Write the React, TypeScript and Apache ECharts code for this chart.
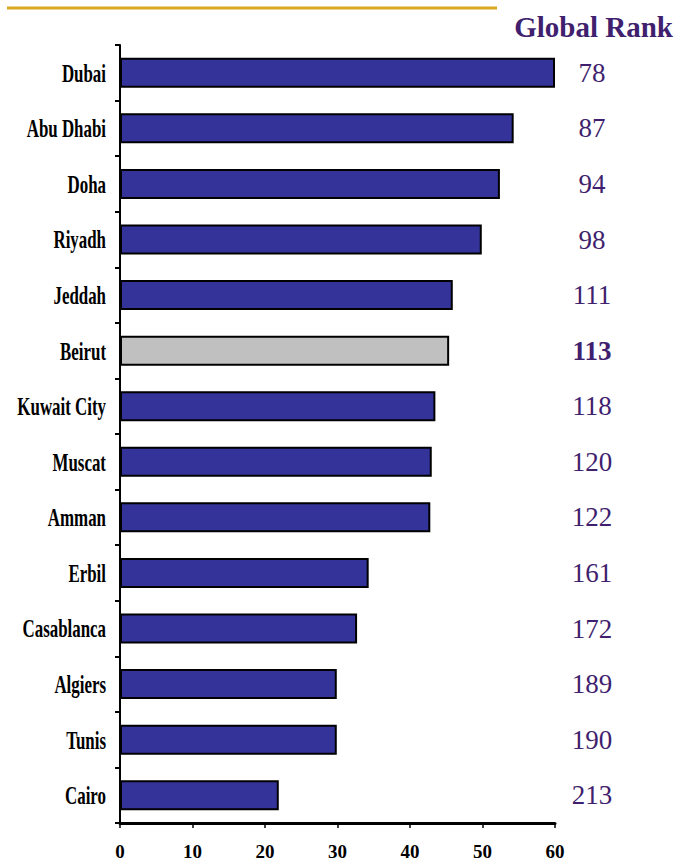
import React, { useEffect, useRef } from "react";
import * as echarts from "echarts";

const categories = [
  "Dubai",
  "Abu Dhabi",
  "Doha",
  "Riyadh",
  "Jeddah",
  "Beirut",
  "Kuwait City",
  "Muscat",
  "Amman",
  "Erbil",
  "Casablanca",
  "Algiers",
  "Tunis",
  "Cairo",
];
const scores = [60.0, 54.3, 52.4, 49.9, 45.9, 45.4, 43.5, 43.0, 42.8, 34.3, 32.7, 29.9, 29.9, 21.9];
const ranks = ["78", "87", "94", "98", "111", "113", "118", "120", "122", "161", "172", "189", "190", "213"];
const highlight = "Beirut";
const xTicks = { min: 0, max: 60, interval: 10 };

const PURPLE = "#3f1f6e";
const BLUE = "#333399";
const GREY = "#c0c0c0";
const GOLD = "#d9a81e";
const SERIF = "Liberation Serif, Times New Roman, serif";

export default function App() {
  const ref = useRef<HTMLDivElement>(null);
  useEffect(() => {
    if (!ref.current) return;
    const chart = echarts.init(ref.current, null, { renderer: "svg" });
    chart.setOption({
      animation: false,
      backgroundColor: "#ffffff",
      grid: { left: 120, right: 120, top: 45, bottom: 39, containLabel: false },
      xAxis: {
        type: "value",
        min: xTicks.min,
        max: xTicks.max,
        interval: xTicks.interval,
        axisLine: { show: true, lineStyle: { color: "#000", width: 3 } },
        axisTick: { show: true, length: 5, lineStyle: { color: "#000", width: 1.5 } },
        splitLine: { show: false },
        axisLabel: {
          margin: 19,
          color: "#000",
          fontFamily: SERIF,
          fontWeight: "bold",
          fontSize: 19,
        },
      },
      yAxis: [
        {
          type: "category",
          data: categories,
          inverse: true,
          axisLine: { show: true, lineStyle: { color: "#000", width: 2 } },
          axisTick: { show: true, length: 5, inside: false, lineStyle: { color: "#000", width: 2 } },
          axisLabel: { show: false },
          splitLine: { show: false },
        },
        {
          type: "category",
          data: ranks.map((r, i) => (categories[i] === highlight ? "{b|" + r + "}" : r)),
          inverse: true,
          position: "right",
          axisLine: { show: false },
          axisTick: { show: false },
          axisLabel: {
            margin: 37,
            align: "center",
            color: PURPLE,
            fontFamily: SERIF,
            fontSize: 27,
            rich: {
              b: {
                color: PURPLE,
                fontFamily: SERIF,
                fontSize: 27,
                fontWeight: "bold",
              },
            },
          },
        },
      ],
      series: [
        {
          type: "bar",
          yAxisIndex: 0,
          barWidth: 30,
          data: scores.map((v, i) => ({
            value: v,
            itemStyle: {
              color: categories[i] === highlight ? GREY : BLUE,
              borderColor: "#000",
              borderWidth: 2,
            },
          })),
        },
        {
          type: "custom",
          yAxisIndex: 0,
          encode: { x: 0, y: 1 },
          data: categories.map((c) => [0, c]),
          renderItem: (params: any, api: any) => {
            const p = api.coord([0, api.value(1)]);
            return {
              type: "text",
              x: p[0] - 14,
              y: p[1],
              scaleX: 0.65,
              style: {
                text: categories[params.dataIndex],
                fill: "#000",
                fontFamily: SERIF,
                fontWeight: "bold",
                fontSize: 26,
                align: "right",
                verticalAlign: "middle",
              },
            };
          },
          silent: true,
          z: 5,
        },
      ],
      graphic: [
        {
          type: "line",
          shape: { x1: 7, y1: 8, x2: 497, y2: 8 },
          style: { stroke: GOLD, lineWidth: 3 },
        },
        {
          type: "text",
          right: 2,
          top: 12,
          style: {
            text: "Global Rank",
            fill: PURPLE,
            fontFamily: SERIF,
            fontWeight: "bold",
            fontSize: 29,
          },
        },
      ],
    });
    return () => chart.dispose();
  }, []);
  return (
    <div
      ref={ref}
      style={{ position: "fixed", left: 0, top: 0, width: 675, height: 862 }}
    />
  );
}
